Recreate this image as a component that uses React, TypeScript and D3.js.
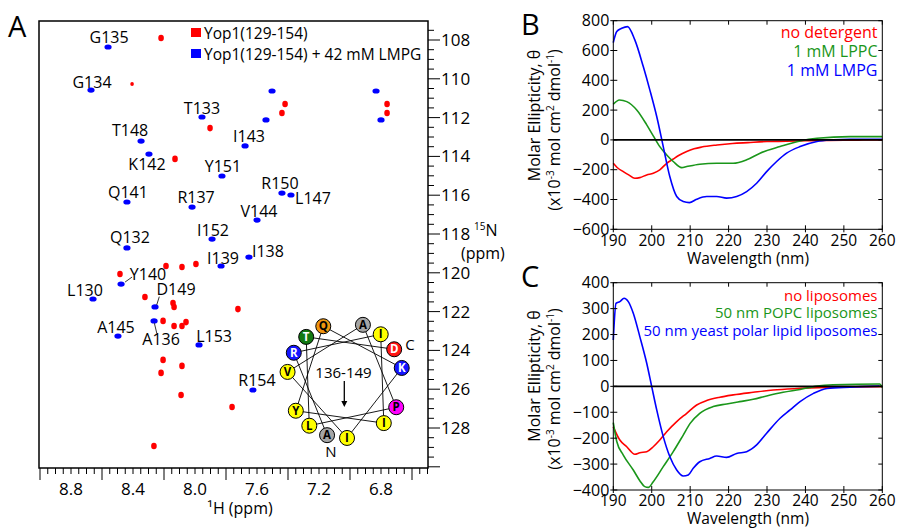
import React from 'react';
import * as d3 from 'd3';

const FONT = "'Open Sans', 'Noto Sans', sans-serif";

// ---------- Panel A: 1H-15N HSQC peaks ----------
// Yop1(129-154) + 42 mM LMPG (blue), assigned
const lmpgLabels = ['G135', 'G134', 'T133', 'T148', 'I143', 'K142', 'Y151', 'R150', 'L147', 'Q141', 'R137', 'V144', 'I152', 'Q132', 'I138', 'I139', 'Y140', 'L130', 'D149', 'A136', 'A145', 'L153', 'R154'];
const lmpgH = [8.561, 8.671, 7.955, 8.348, 7.677, 8.297, 7.826, 7.439, 7.381, 8.439, 8.019, 7.600, 7.890, 8.439, 7.652, 7.832, 8.477, 8.658, 8.258, 8.264, 8.497, 7.974, 7.626];
const lmpgN = [108.36, 110.58, 111.97, 113.21, 113.46, 113.88, 115.01, 115.89, 115.99, 116.35, 116.61, 117.28, 118.26, 118.72, 119.19, 119.65, 120.58, 121.35, 121.76, 122.48, 123.26, 123.72, 126.04];
// unassigned (side-chain) blue peaks
const lmpgExtraH = [7.503, 7.542, 6.832, 6.800];
const lmpgExtraN = [110.63, 112.12, 110.63, 112.12];
// Yop1(129-154) free (red)
const freeH = [8.219, 8.406, 7.419, 7.439, 6.761, 6.761, 7.903, 8.129, 8.187, 8.084, 7.994, 8.484, 8.323, 8.142, 8.135, 7.723, 8.206, 8.135, 8.084, 8.058, 8.206, 8.084, 8.219, 8.090, 7.761, 8.265];
const freeN = [107.90, 110.27, 111.30, 111.76, 111.30, 111.76, 112.54, 114.13, 119.65, 119.70, 119.55, 120.06, 121.25, 121.56, 121.76, 121.87, 122.48, 122.74, 122.74, 122.54, 124.49, 124.80, 125.16, 126.30, 126.92, 128.93];

const hTickLabels = [8.8, 8.4, 8.0, 7.6, 7.2, 6.8];
const nTickLabels = [108, 110, 112, 114, 116, 118, 120, 122, 124, 126, 128];

const legendA = ['Yop1(129-154)', 'Yop1(129-154) + 42 mM LMPG'];

// helical wheel residues 136-149
const wheelSeq = ['A', 'R', 'I', 'I', 'Y', 'Q', 'K', 'I', 'V', 'A', 'P', 'L', 'T', 'D'];

// ---------- Panel B: CD with detergents ----------
const bNoDetWl = [190, 191, 192.6, 194, 195.6, 196.9, 198.7, 200.4, 202.1, 203.9, 205.5, 207, 209.1, 211, 213, 217, 221, 225, 230, 235, 240, 245, 250, 255, 260];
const bNoDetVal = [-157, -185, -213, -235, -257, -253, -235, -224, -201, -157, -130, -105, -78, -60, -48, -34, -24, -18, -11, -9, -6, -4, -2, -1, 0];
const bLPPCWl = [190, 191.6, 193.5, 196.1, 198.7, 200.4, 202.1, 203.9, 205.6, 207.8, 209.1, 212.5, 216.9, 221.2, 224.7, 228.2, 233.4, 238.6, 243, 251.6, 260];
const bLPPCVal = [239, 268, 257, 201, 101, 27, -45, -101, -145, -186, -179, -163, -157, -157, -134, -89, -45, -7, 11, 22, 22];
const bLMPGWl = [190, 190.9, 192.2, 193.7, 195.6, 197.8, 199.5, 201.3, 203, 204.7, 206.5, 208.2, 209.8, 211.7, 214.3, 216.9, 219.5, 222.1, 224.7, 227.3, 229.9, 232.5, 235.1, 238.6, 243, 247.2, 251.6, 260];
const bLMPGVal = [653, 727, 749, 760, 671, 492, 336, 157, -45, -246, -380, -414, -421, -398, -380, -380, -391, -380, -347, -291, -213, -145, -89, -45, -11, 0, 4, 4];
const bLegend = ['no detergent', '1 mM LPPC', '1 mM LMPG'];
const bYTicks = [800, 600, 400, 200, 0, -200, -400, -600];

// ---------- Panel C: CD with liposomes ----------
const cNoLipWl = [190, 191.7, 193.5, 195.6, 196.9, 198.7, 200.4, 202.1, 203.9, 206.5, 209.1, 211.7, 214.3, 217.7, 221.2, 226.4, 231.6, 238.6, 247.2, 259.3, 260];
const cNoLipVal = [-156, -207, -233, -262, -256, -252, -233, -207, -175, -136, -104, -72, -55, -42, -33, -23, -14, -8, -3, -1, -1];
const cPOPCWl = [190, 190.9, 192.6, 195.2, 196.9, 198.2, 199.1, 200.4, 203, 205.6, 208.2, 210, 212.5, 216, 219.5, 222.9, 226.4, 229.9, 234.2, 238.6, 243, 247.2, 259.3, 260];
const cPOPCVal = [-140, -213, -265, -323, -364, -387, -390, -368, -310, -252, -188, -143, -104, -78, -68, -59, -50, -37, -23, -12, 1, 6, 9, -5];
const cYeastWl = [190, 190.7, 191.7, 192.8, 193.9, 195.2, 196.9, 198.7, 200, 201.3, 203, 204.7, 206.5, 208.2, 209.5, 210.8, 212.5, 215.1, 216.9, 219.5, 222.1, 224.7, 227.3, 229.9, 233.4, 236, 238.6, 242.1, 245.6, 251.6, 259.3];
const cYeastVal = [179, 320, 327, 340, 327, 282, 192, 89, -1, -91, -194, -271, -323, -346, -342, -316, -291, -278, -269, -274, -259, -252, -226, -181, -123, -91, -59, -27, -8, -3, 1];
const cLegend = ['no liposomes', '50 nm POPC liposomes', '50 nm yeast polar lipid liposomes'];
const cYTicks = [400, 300, 200, 100, 0, -100, -200, -300, -400];

const wlTicks = [190, 200, 210, 220, 230, 240, 250, 260];

// ---------- layout / style ----------
const RED = '#ff0000';
const BLUE = '#0000ff';
const GREEN = '#1a961a';
const labelOffsets: Record<string, [number, number]> = {
  G135: [1, -9], G134: [1, -8], T133: [0, -9], T148: [-11, -11], I143: [4, -9], K142: [-2, 10],
  Y151: [1, -9], R150: [-2, -10], L147: [22, 3], Q141: [1, -9], R137: [4, -10], V144: [2, -9],
  I152: [1, -9], Q132: [3, -10], I138: [19, -6], I139: [2, -8], Y140: [27, -10], L130: [-8, -8],
  D149: [21, -17], A136: [7, 19], A145: [-2, -9], L153: [15, -8], R154: [4, -9],
};
const leaders: Record<string, [number, number, number, number]> = {
  Y140: [4, -2, 11, -7],
  D149: [1.7, -2, 4.3, -10.3],
  A136: [0.3, 2.3, 2.7, 12.3],
};
const wheelColor: Record<string, [string, string]> = {
  A: ['#a5a5a5', '#000'], I: ['#ffff00', '#000'], V: ['#ffff00', '#000'], Y: ['#ffff00', '#000'],
  L: ['#ffff00', '#000'], Q: ['#f0960f', '#000'], T: ['#127a12', '#fff'], R: ['#1414ff', '#fff'],
  K: ['#1414ff', '#fff'], D: ['#ff1414', '#fff'], P: ['#ff00ff', '#000'],
};

function PanelA() {
  const L = 39, R = 428, T = 21, B = 468;
  const x = d3.scaleLinear().domain([8.8, 6.8]).range([71, 381]);
  const y = d3.scaleLinear().domain([108, 128]).range([40, 428]);
  const hMin = x.invert(R), hMax = x.invert(L);
  const nMin = y.invert(T), nMax = y.invert(B);
  const xt: number[] = [];
  for (let k = Math.ceil(hMin * 20); k <= Math.floor(hMax * 20); k++) xt.push(k);
  const yt: number[] = [];
  for (let k = Math.ceil(nMin * 2); k <= Math.floor(nMax * 2); k++) yt.push(k);

  // wheel
  const cx = 345, cy = 380, wr = 58;
  const pos = wheelSeq.map((_, i) => {
    const a = ((252 - 100 * i) * Math.PI) / 180;
    return [cx + wr * Math.cos(a), cy - wr * Math.sin(a)];
  });

  return (
    <g fontFamily={FONT}>
      <text x={8} y={37} fontSize={29}>A</text>
      <rect x={L} y={T} width={R - L} height={B - T} fill="none" stroke="#000" strokeWidth={1.5} />
      {xt.map((k) => {
        const long = k % 8 === 4;
        return <line key={'xt' + k} x1={x(k / 20)} x2={x(k / 20)} y1={B} y2={B + (long ? 12 : 6)} stroke="#000" strokeWidth={1} />;
      })}
      {hTickLabels.map((v) => (
        <text key={'xl' + v} x={x(v)} y={495} fontSize={17} textAnchor="middle">{v.toFixed(1)}</text>
      ))}
      <text x={240} y={514} fontSize={16} textAnchor="middle">¹H (ppm)</text>
      {yt.map((k) => {
        const long = k % 4 === 0;
        return <line key={'yt' + k} x1={R} x2={R + (long ? 12 : 6)} y1={y(k / 2)} y2={y(k / 2)} stroke="#000" strokeWidth={1} />;
      })}
      {nTickLabels.map((v) => (
        <text key={'yl' + v} x={441} y={y(v) + 6} fontSize={17}>{v}</text>
      ))}
      <text x={474} y={236} fontSize={16}>
        <tspan fontSize={10} dy={-6}>15</tspan>
        <tspan dy={6}>N</tspan>
      </text>
      <text x={461} y={259} fontSize={16}>(ppm)</text>

      {/* legend */}
      <rect x={191} y={28} width={10} height={9} fill={RED} />
      <rect x={191} y={49} width={10} height={9} fill={BLUE} />
      <text x={204} y={38.5} fontSize={15.5}>{legendA[0]}</text>
      <text x={204} y={59.5} fontSize={15.5}>{legendA[1]}</text>

      {/* free peaks */}
      {freeH.map((h, i) => (
        <ellipse key={'f' + i} cx={x(h)} cy={y(freeN[i])} rx={i === 1 ? 1.8 : 2.8} ry={i === 1 ? 2 : 3.3} fill={RED} />
      ))}
      {/* LMPG peaks */}
      {lmpgExtraH.map((h, i) => (
        <ellipse key={'e' + i} cx={x(h)} cy={y(lmpgExtraN[i])} rx={3.6} ry={2.6} fill={BLUE} />
      ))}
      {lmpgH.map((h, i) => {
        const px = x(h), py = y(lmpgN[i]);
        const lab = lmpgLabels[i];
        const [dx, dy] = labelOffsets[lab];
        const ld = leaders[lab];
        return (
          <g key={'l' + i}>
            <ellipse cx={px} cy={py} rx={3.6} ry={2.6} fill={BLUE} />
            {ld && <line x1={px + ld[0]} y1={py + ld[1]} x2={px + ld[2]} y2={py + ld[3]} stroke="#000" strokeWidth={0.8} />}
            <text x={px + dx} y={py + dy + 5.5} fontSize={16} textAnchor="middle">{lab}</text>
          </g>
        );
      })}

      {/* helical wheel */}
      <g>
        {pos.slice(1).map((p, i) => (
          <line key={'wl' + i} x1={pos[i][0]} y1={pos[i][1]} x2={p[0]} y2={p[1]} stroke="#000" strokeWidth={0.9} />
        ))}
        {pos.map((p, i) => {
          const [fill, tc] = wheelColor[wheelSeq[i]];
          return (
            <g key={'wc' + i}>
              <circle cx={p[0]} cy={p[1]} r={7.5} fill={fill} stroke="#000" strokeWidth={1} />
              <text x={p[0]} y={p[1] + 4} fontSize={11.5} fontWeight="bold" textAnchor="middle" fill={tc}>{wheelSeq[i]}</text>
            </g>
          );
        })}
        <text x={343.5} y={378} fontSize={15} textAnchor="middle">136-149</text>
        <line x1={344.3} y1={381} x2={344.3} y2={402} stroke="#000" strokeWidth={1.3} />
        <path d="M341.3,401 L347.3,401 L344.3,407 Z" fill="#000" />
        <text x={331} y={457} fontSize={15} textAnchor="middle">N</text>
        <text x={410} y={350} fontSize={15} textAnchor="middle">C</text>
      </g>
    </g>
  );
}

type Series = { wl: number[]; val: number[]; color: string };

function CDPanel(props: {
  letter: string; top: number; bottom: number; yDomain: [number, number]; yTicks: number[];
  series: Series[]; legend: string[]; legendY: number[]; legendSize: number; xLabelY: number; titleY: number; letterY: number;
  yTitleC1: number; yTitleC2: number;
}) {
  const L = 613.3, R = 882.3;
  const x = d3.scaleLinear().domain([190, 260]).range([L, R]);
  const y = d3.scaleLinear().domain(props.yDomain).range([props.bottom, props.top]);
  const line = d3.line<[number, number]>().x((d) => x(d[0])).y((d) => y(d[1])).curve(d3.curveMonotoneX);
  const T = props.top, B = props.bottom;
  return (
    <g fontFamily={FONT}>
      <text x={521} y={props.letterY} fontSize={29}>{props.letter}</text>
      {props.series.map((s, i) => (
        <path key={i} d={line(s.wl.map((w, j) => [w, s.val[j]] as [number, number])) || ''} fill="none" stroke={s.color} strokeWidth={1.6} />
      ))}
      <line x1={L} x2={R} y1={y(0)} y2={y(0)} stroke="#000" strokeWidth={1.6} />
      <rect x={L} y={T} width={R - L} height={B - T} fill="none" stroke="#000" strokeWidth={1} />
      {wlTicks.map((w) => (
        <g key={'xt' + w}>
          <line x1={x(w)} x2={x(w)} y1={B + 3} y2={B - 4} stroke="#000" />
          <line x1={x(w)} x2={x(w)} y1={T} y2={T + 4} stroke="#000" />
          <text x={x(w)} y={props.xLabelY} fontSize={15.5} textAnchor="middle">{w}</text>
        </g>
      ))}
      {props.yTicks.map((v) => (
        <g key={'yt' + v}>
          <line x1={L - 3} x2={L + 4} y1={y(v)} y2={y(v)} stroke="#000" />
          <line x1={R - 4} x2={R} y1={y(v)} y2={y(v)} stroke="#000" />
          <text x={L - 4} y={y(v) + 5.5} fontSize={16} textAnchor="end">{v < 0 ? '\u2212' + Math.abs(v) : v}</text>
        </g>
      ))}
      <text x={748} y={props.titleY} fontSize={15.5} textAnchor="middle">Wavelength (nm)</text>
      <text transform={`translate(540,${props.yTitleC1}) rotate(-90)`} fontSize={16} textAnchor="middle">Molar Ellipticity, θ</text>
      <text transform={`translate(560,${props.yTitleC2}) rotate(-90)`} fontSize={16} textAnchor="middle">
        (x10<tspan fontSize={10} dy={-6}>-3</tspan><tspan dy={6}> mol cm</tspan><tspan fontSize={10} dy={-6}>2</tspan><tspan dy={6}> dmol</tspan><tspan fontSize={10} dy={-6}>-1</tspan><tspan dy={6}>)</tspan>
      </text>
      {props.legend.map((t, i) => (
        <text key={'lg' + i} x={877.5} y={props.legendY[i]} fontSize={props.legendSize} textAnchor="end" fill={props.series[i].color}>{t}</text>
      ))}
    </g>
  );
}

export default function App() {
  return (
    <div style={{ position: 'absolute', left: 0, top: 0, width: 899, height: 529, background: '#fff' }}>
      <svg width={899} height={529} style={{ display: 'block' }}>
        <rect width={899} height={529} fill="#fff" />
        <PanelA />
        <CDPanel
          letter="B" top={20.7} bottom={229.3} yDomain={[-600, 800]} yTicks={bYTicks}
          series={[
            { wl: bNoDetWl, val: bNoDetVal, color: RED },
            { wl: bLPPCWl, val: bLPPCVal, color: GREEN },
            { wl: bLMPGWl, val: bLMPGVal, color: BLUE },
          ]}
          legend={bLegend} legendY={[38, 57, 76]} legendSize={16} xLabelY={246} titleY={264} letterY={35}
          yTitleC1={115.5} yTitleC2={130}
        />
        <CDPanel
          letter="C" top={282.7} bottom={490} yDomain={[-400, 400]} yTicks={cYTicks}
          series={[
            { wl: cNoLipWl, val: cNoLipVal, color: RED },
            { wl: cPOPCWl, val: cPOPCVal, color: GREEN },
            { wl: cYeastWl, val: cYeastVal, color: BLUE },
          ]}
          legend={cLegend} legendY={[300.5, 318, 335.5]} legendSize={15} xLabelY={506} titleY={524} letterY={287}
          yTitleC1={376} yTitleC2={389}
        />
      </svg>
    </div>
  );
}
